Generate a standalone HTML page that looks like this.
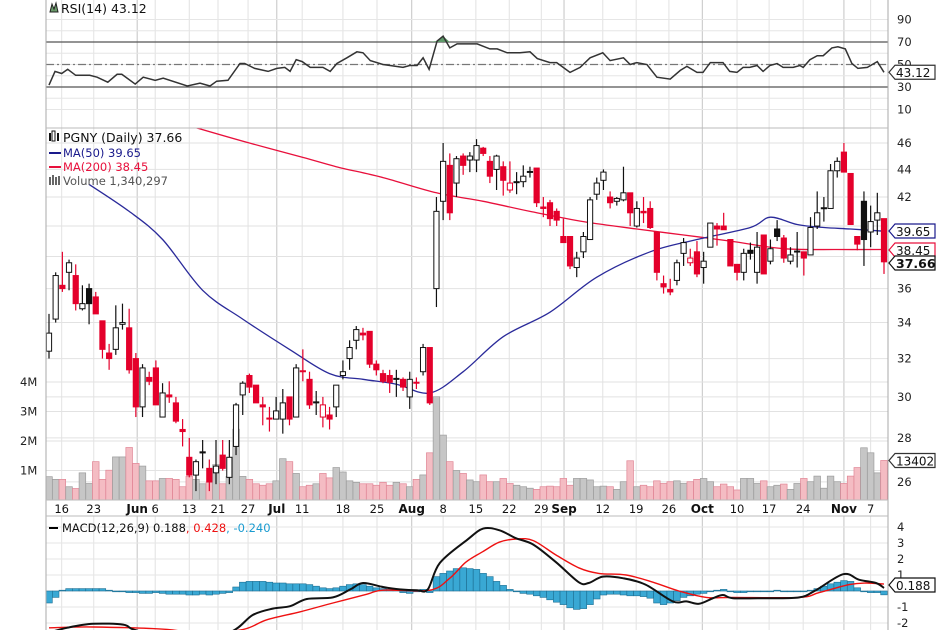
<!DOCTYPE html>
<html><head><meta charset="utf-8"><style>
html,body{margin:0;padding:0;background:#fff;}
svg{display:block;font-family:"DejaVu Sans","Liberation Sans",sans-serif;}
</style></head><body>
<svg id="chart" width="936" height="630" viewBox="0 0 936 630" xmlns="http://www.w3.org/2000/svg">
<defs>
<clipPath id="cR"><rect x="46" y="0" width="842" height="128"/></clipPath>
<clipPath id="cP"><rect x="46" y="128" width="842" height="372"/></clipPath>
<clipPath id="cM"><rect x="46" y="517" width="842" height="113"/></clipPath>
</defs>
<g id="grid"></g>
<g id="rsiG" clip-path="url(#cR)"></g>
<g id="volG" clip-path="url(#cP)"></g>
<g id="priceG" clip-path="url(#cP)"></g>
<g id="macdG" clip-path="url(#cM)"></g>
<g id="axesG"></g>
<g>
<path d="M50 12 L52 4 L54 9 L56 3 L58 12 Z" fill="#6a9a6a" stroke="#222" stroke-width="1"/>
<text x="61" y="13" font-size="12.5" fill="#111">RSI(14) 43.12</text>
</g>
<g>
<rect x="49" y="133" width="2" height="8" fill="#111"/><rect x="52" y="131" width="3" height="10" fill="none" stroke="#111" stroke-width="1"/><rect x="57" y="133" width="2" height="8" fill="#111"/>
<text x="63" y="142" font-size="12.5" fill="#111">PGNY (Daily) 37.66</text>
<line x1="49" y1="153" x2="61" y2="153" stroke="#1a1a8c" stroke-width="2"/>
<text x="63" y="157" font-size="11.5" fill="#1a1a8c">MA(50) 39.65</text>
<line x1="49" y1="167" x2="61" y2="167" stroke="#e8103c" stroke-width="2"/>
<text x="63" y="171" font-size="11.5" fill="#e8103c">MA(200) 38.45</text>
<rect x="49" y="177" width="2" height="8" fill="#666"/><rect x="52" y="175" width="2" height="10" fill="#666"/><rect x="55" y="177" width="2" height="8" fill="#666"/><rect x="58" y="176" width="2" height="9" fill="#666"/>
<text x="63" y="185" font-size="11.5" fill="#555">Volume 1,340,297</text>
</g>
<g>
<line x1="49" y1="528" x2="58" y2="528" stroke="#000" stroke-width="2"/>
<text x="62" y="532" font-size="11.5" fill="#111">MACD(12,26,9) 0.188<tspan fill="#ee1111">, 0.428</tspan><tspan fill="#1a9bd0">, -0.240</tspan></text>
</g>
</svg>
<script>
const NS="http://www.w3.org/2000/svg";
// ---- price data (daily) ----
const opens=[32.4,34.2,36.2,37.0,36.8,34.8,36.0,35.5,34.1,32.3,32.5,33.9,33.7,32.0,29.5,31.0,31.5,29.0,30.1,29.7,28.4,27.1,26.3,27.35,26.6,26.4,27.2,26.2,27.6,30.1,31.1,30.6,29.6,28.95,28.9,28.9,30.0,29.0,31.35,30.9,29.75,29.0,29.1,29.5,31.1,32.0,33.0,33.4,33.5,31.7,31.2,31.1,30.95,30.9,30.0,30.75,31.3,32.6,36.0,41.7,44.3,43.0,45.0,44.7,44.7,45.6,44.6,44.0,44.2,42.5,43.1,43.1,43.85,44.1,41.3,41.6,41.0,39.3,39.3,37.3,38.3,39.1,42.2,43.2,42.0,41.7,41.8,42.3,40.0,41.0,41.2,39.6,36.3,35.95,36.5,38.2,37.6,38.3,37.3,38.6,40.0,40.0,39.1,37.5,37.0,38.4,37.0,39.4,37.7,39.8,39.2,37.7,38.35,38.3,38.1,40.0,41.25,41.2,43.9,45.3,43.7,39.3,41.7,39.6,40.4,40.5];
const highs=[34.5,37.0,38.3,37.8,37.5,36.2,36.3,35.8,34.1,32.8,35.0,35.1,34.8,32.3,31.7,31.3,31.9,30.7,30.8,30.0,28.9,28.0,27.0,27.9,27.0,27.9,27.9,27.9,29.7,30.8,31.2,30.6,30.0,29.5,30.0,30.4,30.0,31.7,32.5,31.3,30.3,30.0,29.5,30.6,31.9,33.0,33.8,33.7,33.5,31.9,31.4,31.4,31.4,31.0,31.3,31.0,32.8,32.6,42.0,46.0,45.2,45.0,45.2,45.3,46.3,45.7,45.0,45.1,44.6,44.6,43.8,44.3,44.2,44.1,42.0,41.8,41.2,40.5,39.3,38.3,39.6,42.0,43.4,44.0,42.4,42.0,44.2,42.3,41.7,42.0,41.7,39.6,36.8,36.6,37.8,39.2,38.5,39.0,38.3,40.2,40.2,40.9,39.1,37.5,38.5,38.9,39.6,39.4,39.1,40.4,39.4,38.6,39.6,38.3,40.6,42.4,42.0,44.4,44.9,46.0,43.7,39.3,42.4,41.4,42.3,40.5];
const lows=[32.0,34.0,35.8,35.9,34.7,34.7,33.9,34.5,32.0,31.4,32.2,33.6,31.2,29.0,29.0,30.6,29.6,29.0,29.7,28.7,27.6,26.2,25.6,26.6,25.6,25.9,26.5,25.9,27.2,29.1,30.2,29.7,28.6,28.3,28.9,28.2,28.6,29.0,30.8,29.4,29.1,28.5,28.4,29.0,30.9,31.4,32.5,33.0,31.5,31.1,30.7,30.2,30.0,30.3,29.4,30.4,31.1,29.6,34.9,40.4,40.4,42.0,43.6,43.8,43.8,45.0,43.0,42.5,42.1,42.3,42.2,42.7,43.4,41.3,40.6,40.0,40.0,38.9,37.2,36.7,37.9,39.1,41.8,42.5,41.2,41.4,41.7,40.0,39.9,40.2,39.8,36.5,35.7,35.6,36.2,37.4,37.4,36.7,36.3,38.6,38.7,39.8,37.4,36.5,36.5,37.8,36.3,36.9,37.5,39.0,37.6,37.5,37.3,36.8,38.1,39.8,40.3,41.2,43.4,43.8,40.1,38.4,37.4,38.6,39.4,36.9];
const closes=[33.4,36.8,36.0,37.6,35.1,35.1,35.1,34.5,32.5,32.0,33.7,34.0,31.4,29.5,31.5,30.8,29.6,30.2,30.0,28.8,28.3,26.3,26.9,27.3,26.0,26.7,26.6,27.1,29.6,30.7,30.5,29.7,29.5,28.9,29.3,29.7,28.9,31.5,31.3,29.6,29.7,29.6,28.9,30.6,31.3,32.6,33.6,33.3,31.7,31.4,30.8,30.75,30.9,30.5,30.9,30.7,32.6,29.7,41.0,44.6,40.9,44.8,44.3,45.0,45.8,45.2,43.5,45.0,43.2,43.0,43.05,43.5,43.8,41.6,41.2,40.5,40.4,38.9,37.4,37.9,39.3,41.8,43.0,43.8,41.6,41.9,42.3,40.9,41.2,40.9,39.9,37.0,36.1,35.8,37.6,38.9,37.9,36.9,37.7,40.2,39.8,39.75,37.4,37.0,38.2,38.2,38.6,36.9,38.5,39.3,37.9,38.1,38.3,37.9,39.9,40.9,41.2,43.9,44.6,43.8,40.1,38.8,39.1,40.3,40.9,37.66];
const volumes=[.79,.70,.70,.45,.39,.92,.56,1.3,.70,1.01,1.46,1.46,1.78,1.24,1.15,.65,.65,.73,.73,.70,.45,.8,.7,.55,.6,1.2,.55,.8,2.4,.8,.7,.55,.5,.55,.65,1.4,1.3,.9,.45,.5,.55,.9,.75,1.1,.95,.65,.6,.55,.55,.5,.6,.5,.6,.55,.45,.7,.85,1.6,3.5,2.2,1.3,1.0,.9,.68,.62,.85,.62,.62,.73,.56,.5,.45,.4,.36,.45,.47,.45,.73,.5,.73,.73,.68,.45,.47,.45,.36,.62,1.33,.45,.5,.45,.65,.56,.62,.65,.56,.62,.7,.73,.62,.45,.54,.45,.34,.73,.73,.56,.65,.45,.5,.54,.36,.56,.73,.62,.81,.4,.81,.62,.56,.81,1.1,1.77,1.6,.92,1.34];
// moving averages (sampled at day indices)
const ma50Idx=[6,12,17,23,29,36,42,47,52,57,62,68,75,82,90,97,105,108,112,116,120,125];
const ma50Val=[42.9,41.0,39.1,35.9,34.2,32.5,31.2,30.9,30.65,30.2,31.3,33.2,34.6,36.7,38.3,39.1,39.9,40.6,40.1,39.9,39.8,39.65];
const ma200Idx=[22,30,38,43,50,58,65,72,80,88,95,102,110,118,125];
const ma200Val=[47.2,46.0,44.9,44.2,43.4,42.3,41.7,41.0,40.3,39.8,39.4,39.0,38.5,38.45,38.45];
// RSI (sampled)
const rsiIdx=[0,0.9,1.9,2.8,4,6.1,7.2,8.8,10.2,10.9,12.9,14.1,15.9,17.1,20.7,22.6,24.1,25.1,26.8,28.6,29.3,30.8,32.8,34.1,35.3,36.1,37,37.9,39.1,41,42.1,43.1,44.6,46.1,47,48.1,50,53,54,55.1,56,56.9,58.1,59,60,61.1,64.1,66,67.1,68.6,70.5,72,73.1,75,76,78,79.5,81,82.9,84,86,87,88,89.5,91,93,94.5,95.5,97,97.9,99,100.9,101.9,103,103.9,104.9,106,106.9,107.9,109,109.9,111.4,112.4,112.9,113.9,115,115.9,117.2,118.1,119.2,120.2,121.1,122.5,124,125];
const rsiVal=[31.7,43.9,42,45.7,40.4,40.4,38.7,34.3,41.3,41.3,32.6,38.7,36,37.8,30.9,33.5,30.9,35.2,36,50.9,50.9,46.5,43.9,46.5,47.4,43.9,54.3,52.6,47.4,47.4,43.9,50.9,56,61.3,60.4,53.5,50,47.4,49.1,49.1,56,45.7,70.9,75.2,64.8,68.3,68.3,63.9,63.9,60.4,60.4,61.3,55.2,51.7,51.7,43,47.4,56,60.4,53.5,56,50,51.7,50,38.7,37,44.8,48.3,43,43,51.7,51.7,43.9,43,47.4,47.4,49.1,43.9,49.1,50.9,47.4,47.4,49.1,47.4,54.3,57.8,57.8,64.8,65.7,63.9,50.9,46.5,47.4,52.6,43.1];
// MACD (sampled)
const macdIdx=[0,2.7,6.6,11.1,12.6,16.6,22.6,27.5,30.5,33.5,36.1,38.6,42.5,45.1,47,50,52.5,55.1,56.7,58.5,62.6,65,67.4,69.9,72.5,75.9,79.3,80.8,82.9,85.9,89.3,93.4,95.4,97.3,99.4,100.9,102.4,107.3,112.3,114.8,118.9,121.3,123.8,125];
const macdVal=[-2.6,-2.3,-2.05,-2.1,-2.4,-2.8,-3.0,-2.5,-1.5,-1.1,-0.95,-0.5,-0.4,0.1,0.5,0.25,0.1,0.05,0.1,1.75,3.2,3.9,3.8,3.3,2.9,1.8,0.55,0.5,0.9,0.8,0.4,-0.65,-0.65,-0.8,-0.45,-0.25,-0.45,-0.45,-0.4,0.05,1.05,0.7,0.5,0.19];
const sigIdx=[0,6.6,17.7,22.6,29.1,32.6,37.6,42.5,47.6,50,57,60,62.4,64.9,67.4,69.9,72.5,75.9,79.3,82.3,86.4,90.4,94.3,98.4,102.4,112.3,115.3,119.8,122.3,125];
const sigVal=[-2.3,-2.25,-2.4,-2.7,-2.4,-1.8,-1.3,-0.75,-0.2,0.05,0.05,0.8,1.8,2.45,3.05,3.25,3.15,2.25,1.45,1.1,1.0,0.55,0.0,-0.4,-0.4,-0.4,-0.1,0.4,0.5,0.43];
const histVal=[-0.75,-0.4,0.05,0.15,0.15,0.15,0.15,0.15,0.15,0.05,0,-0.05,-0.1,-0.1,-0.15,-0.15,-0.1,-0.15,-0.2,-0.2,-0.2,-0.25,-0.25,-0.2,-0.25,-0.2,-0.15,-0.1,0.25,0.55,0.6,0.6,0.6,0.55,0.5,0.5,0.45,0.45,0.45,0.4,0.3,0.2,0.15,0.2,0.3,0.4,0.45,0.4,0.3,0.2,0.15,0.1,0.05,-0.1,-0.15,-0.05,0.1,-0.1,0.9,1.1,1.25,1.4,1.45,1.4,1.35,1.1,0.9,0.6,0.35,0.1,-0.05,-0.15,-0.2,-0.3,-0.4,-0.55,-0.7,-0.85,-1.05,-1.15,-1.1,-0.85,-0.5,-0.25,-0.2,-0.2,-0.25,-0.3,-0.3,-0.35,-0.45,-0.75,-0.85,-0.75,-0.6,-0.4,-0.3,-0.2,-0.15,-0.05,0.05,0.1,-0.05,-0.1,-0.1,-0.05,-0.05,-0.05,0,0.05,0,-0.05,0,-0.05,0.05,0.15,0.3,0.45,0.55,0.65,0.6,0.2,-0.05,-0.1,-0.1,-0.24];
// axis ticks
const dateLabels=["16","23","Jun","6","13","21","27","Jul","11","18","25","Aug","8","15","22","29","Sep","12","19","26","Oct","10","17","24","Nov","7"];
const dateIdx=[1.9,6.7,13.2,15.9,21,25.3,29.8,34.1,37.9,44,49.1,54.3,59,63.9,68.9,73.7,77.1,82.9,87.9,92.8,97.8,103,107.8,112.9,119,123];
const priceTicks=[46,44,42,36,34,32,30,28,26];
const priceGrid=[46,44,42,40,38,36,34,32,30,28,26];
const volTicks=[1,2,3,4];
const rsiTicks=[90,70,50,30,10];
const macdTicks=[4,3,2,1,-1,-2];

// axis functions
const xI=i=>49+i*6.68;
const yP=p=>143+594*Math.log(46/p);
const yV=m=>500-m*29.5;
const yR=v=>64.5-(v-50)*1.125;
const yM=v=>591-v*16;

function mk(tag,attrs,parent){const e=document.createElementNS(NS,tag);for(const k in attrs)e.setAttribute(k,attrs[k]);parent.appendChild(e);return e;}
function smooth(pts){
  let d='M'+pts[0][0].toFixed(1)+','+pts[0][1].toFixed(1);
  for(let k=0;k<pts.length-1;k++){
    const p0=pts[Math.max(k-1,0)],p1=pts[k],p2=pts[k+1],p3=pts[Math.min(k+2,pts.length-1)];
    const c1=[p1[0]+(p2[0]-p0[0])/6,p1[1]+(p2[1]-p0[1])/6],c2=[p2[0]-(p3[0]-p1[0])/6,p2[1]-(p3[1]-p1[1])/6];
    d+=' C'+c1[0].toFixed(1)+','+c1[1].toFixed(1)+' '+c2[0].toFixed(1)+','+c2[1].toFixed(1)+' '+p2[0].toFixed(1)+','+p2[1].toFixed(1);
  }
  return d;
}
const grid=document.getElementById('grid'),rsiG=document.getElementById('rsiG'),volG=document.getElementById('volG'),priceG=document.getElementById('priceG'),macdG=document.getElementById('macdG'),axesG=document.getElementById('axesG');

// vertical grid
dateLabels.forEach((d,k)=>{
  const x=xI(dateIdx[k]);const month=isNaN(+d);
  const l=mk('line',{x1:x,x2:x,y1:0,y2:630,stroke:month?'#c4c4c4':'#e2e2e2','stroke-width':1},grid);
  
  
  const t=mk('text',{x:x,y:513,'text-anchor':'middle','font-size':month?12:11.5,'font-weight':month?'bold':'normal',fill:'#111'},axesG);
  t.textContent=d;
  
  
});
// horizontal grids
for(let v=10;v<=90;v+=10){const l=mk('line',{x1:46,x2:888,y1:yR(v),y2:yR(v),stroke:'#e6e6e6'},grid);}
priceGrid.forEach(p=>{const l=mk('line',{x1:46,x2:888,y1:yP(p),y2:yP(p),stroke:'#e2e2e2'},grid);});
volTicks.forEach(m=>{const l=mk('line',{x1:46,x2:888,y1:yV(m),y2:yV(m),stroke:'#e2e2e2'},grid);});
[4,3,2,1,0,-1,-2].forEach(v=>{const l=mk('line',{x1:46,x2:888,y1:yM(v),y2:yM(v),stroke:'#e6e6e6'},grid);});
const band=mk('rect',{x:46,y:500,width:842,height:16,fill:'#fff'},grid);



// RSI
[[70,'#555','none'],[30,'#555','none'],[50,'#777','8,3,2,3']].forEach(([v,c,d])=>{const l=mk('line',{x1:46,x2:888,y1:yR(v),y2:yR(v),stroke:c,'stroke-width':1.3,'stroke-dasharray':d},rsiG);});
let rp=rsiIdx.map((i,k)=>xI(i).toFixed(1)+','+yR(rsiVal[k]).toFixed(1)).join(' ');
const ob=mk('polygon',{points:rsiIdx.map((i,k)=>xI(i).toFixed(1)+','+Math.min(yR(rsiVal[k]),yR(70)).toFixed(1)).join(' ')+' '+xI(125)+','+yR(70)+' '+xI(0)+','+yR(70),fill:'#5f9a6a'},rsiG);


const rl=mk('polyline',{points:rp,fill:'none',stroke:'#333','stroke-width':1.5},rsiG);



// volume
volumes.forEach((m,i)=>{
  const down=i>0&&closes[i]<closes[i-1];
  const r=mk('rect',{x:xI(i)-3.3,y:yV(m),width:6.6,height:500-yV(m),fill:down?'#f4bcc3':'#c6c6c6',stroke:down?'#e08595':'#9c9c9c','stroke-width':0.7},volG);
  
  
});
// MAs
const m2=mk('path',{d:smooth(ma200Idx.map((i,k)=>[xI(i),yP(ma200Val[k])])),fill:'none',stroke:'#e8103c','stroke-width':1.3},priceG);


const m5=mk('path',{d:smooth(ma50Idx.map((i,k)=>[xI(i),yP(ma50Val[k])])),fill:'none',stroke:'#2a2a9a','stroke-width':1.3},priceG);


// candles
closes.forEach((c,i)=>{
  const o=opens[i],prev=i>0?closes[i-1]:o;
  const col=c>=prev?'#111':'#e4002b';
  const hollow=c>o;
  const x=xI(i);
  const g=mk('g',{},priceG);
  
  
  mk('line',{x1:x,x2:x,y1:yP(highs[i]),y2:yP(lows[i]),stroke:col,'stroke-width':1.2},g);
  const top=yP(Math.max(o,c)),bot=yP(Math.min(o,c));
  mk('rect',{x:x-2.6,y:top,width:5.2,height:Math.max(bot-top,1),fill:hollow?'#fff':col,stroke:col,'stroke-width':1},g);
});
// MACD
histVal.forEach((h,i)=>{
  const y0=yM(0),y1=yM(h);
  const r=mk('rect',{x:xI(i)-3.3,y:Math.min(y0,y1),width:6.6,height:Math.max(Math.abs(y1-y0),0.8),fill:'#39a8d4',stroke:'#1d6f93','stroke-width':0.6},macdG);
  
  
});
const sl=mk('path',{d:smooth(sigIdx.map((i,k)=>[xI(i),yM(sigVal[k])])),fill:'none',stroke:'#ee1111','stroke-width':1.4},macdG);


const ml=mk('path',{d:smooth(macdIdx.map((i,k)=>[xI(i),yM(macdVal[k])])),fill:'none',stroke:'#111','stroke-width':2},macdG);



// frame lines
[[46,0,46,630,'#aaa'],[888,0,888,630,'#aaa'],[46,128,888,128,'#bbb'],[46,500,888,500,'#bbb'],[46,516,888,516,'#bbb']].forEach(a=>{
  const l=mk('line',{x1:a[0],y1:a[1],x2:a[2],y2:a[3],stroke:a[4],'stroke-width':1},axesG);
  
  
});
// right tick labels
function tl(txt,y,name,x){const t=mk('text',{x:x||897,y:y+4,'font-size':11.5,fill:'#222'},axesG);t.textContent=txt;}
rsiTicks.forEach(v=>tl(String(v),yR(v),'rsi-tick-label'));
priceTicks.forEach(p=>tl(String(p),yP(p),'price-tick-label'));
volTicks.forEach(m=>tl(m+'M',yV(m),'volume-tick-label',20));
macdTicks.forEach(v=>tl(String(v),yM(v),'macd-tick-label'));
// value tags
function tag(txt,y,stroke,bold,name){
  const g=mk('g',{},axesG);
  
  
  mk('polygon',{points:`889,${y} 895,${y-7} 935,${y-7} 935,${y+7} 895,${y+7}`,fill:'#fff',stroke:stroke,'stroke-width':1.2},g);
  const t=mk('text',{x:896,y:y+5,'font-size':bold?12.5:12,'font-weight':bold?'bold':'normal',fill:'#111'},g);
  t.textContent=txt;
}
tag('43.12',yR(43.12),'#333',false,'rsi-value-tag');
tag('39.65',231,'#1a1a8c',false,'ma50-value-tag');
tag('38.45',250,'#e8103c',false,'ma200-value-tag');
tag('37.66',263,'#111',true,'price-value-tag');
tag('13402',yV(1.34),'#333',false,'volume-value-tag');
tag('0.188',yM(0.188)-3,'#111',false,'macd-value-tag');
</script>
</body></html>
